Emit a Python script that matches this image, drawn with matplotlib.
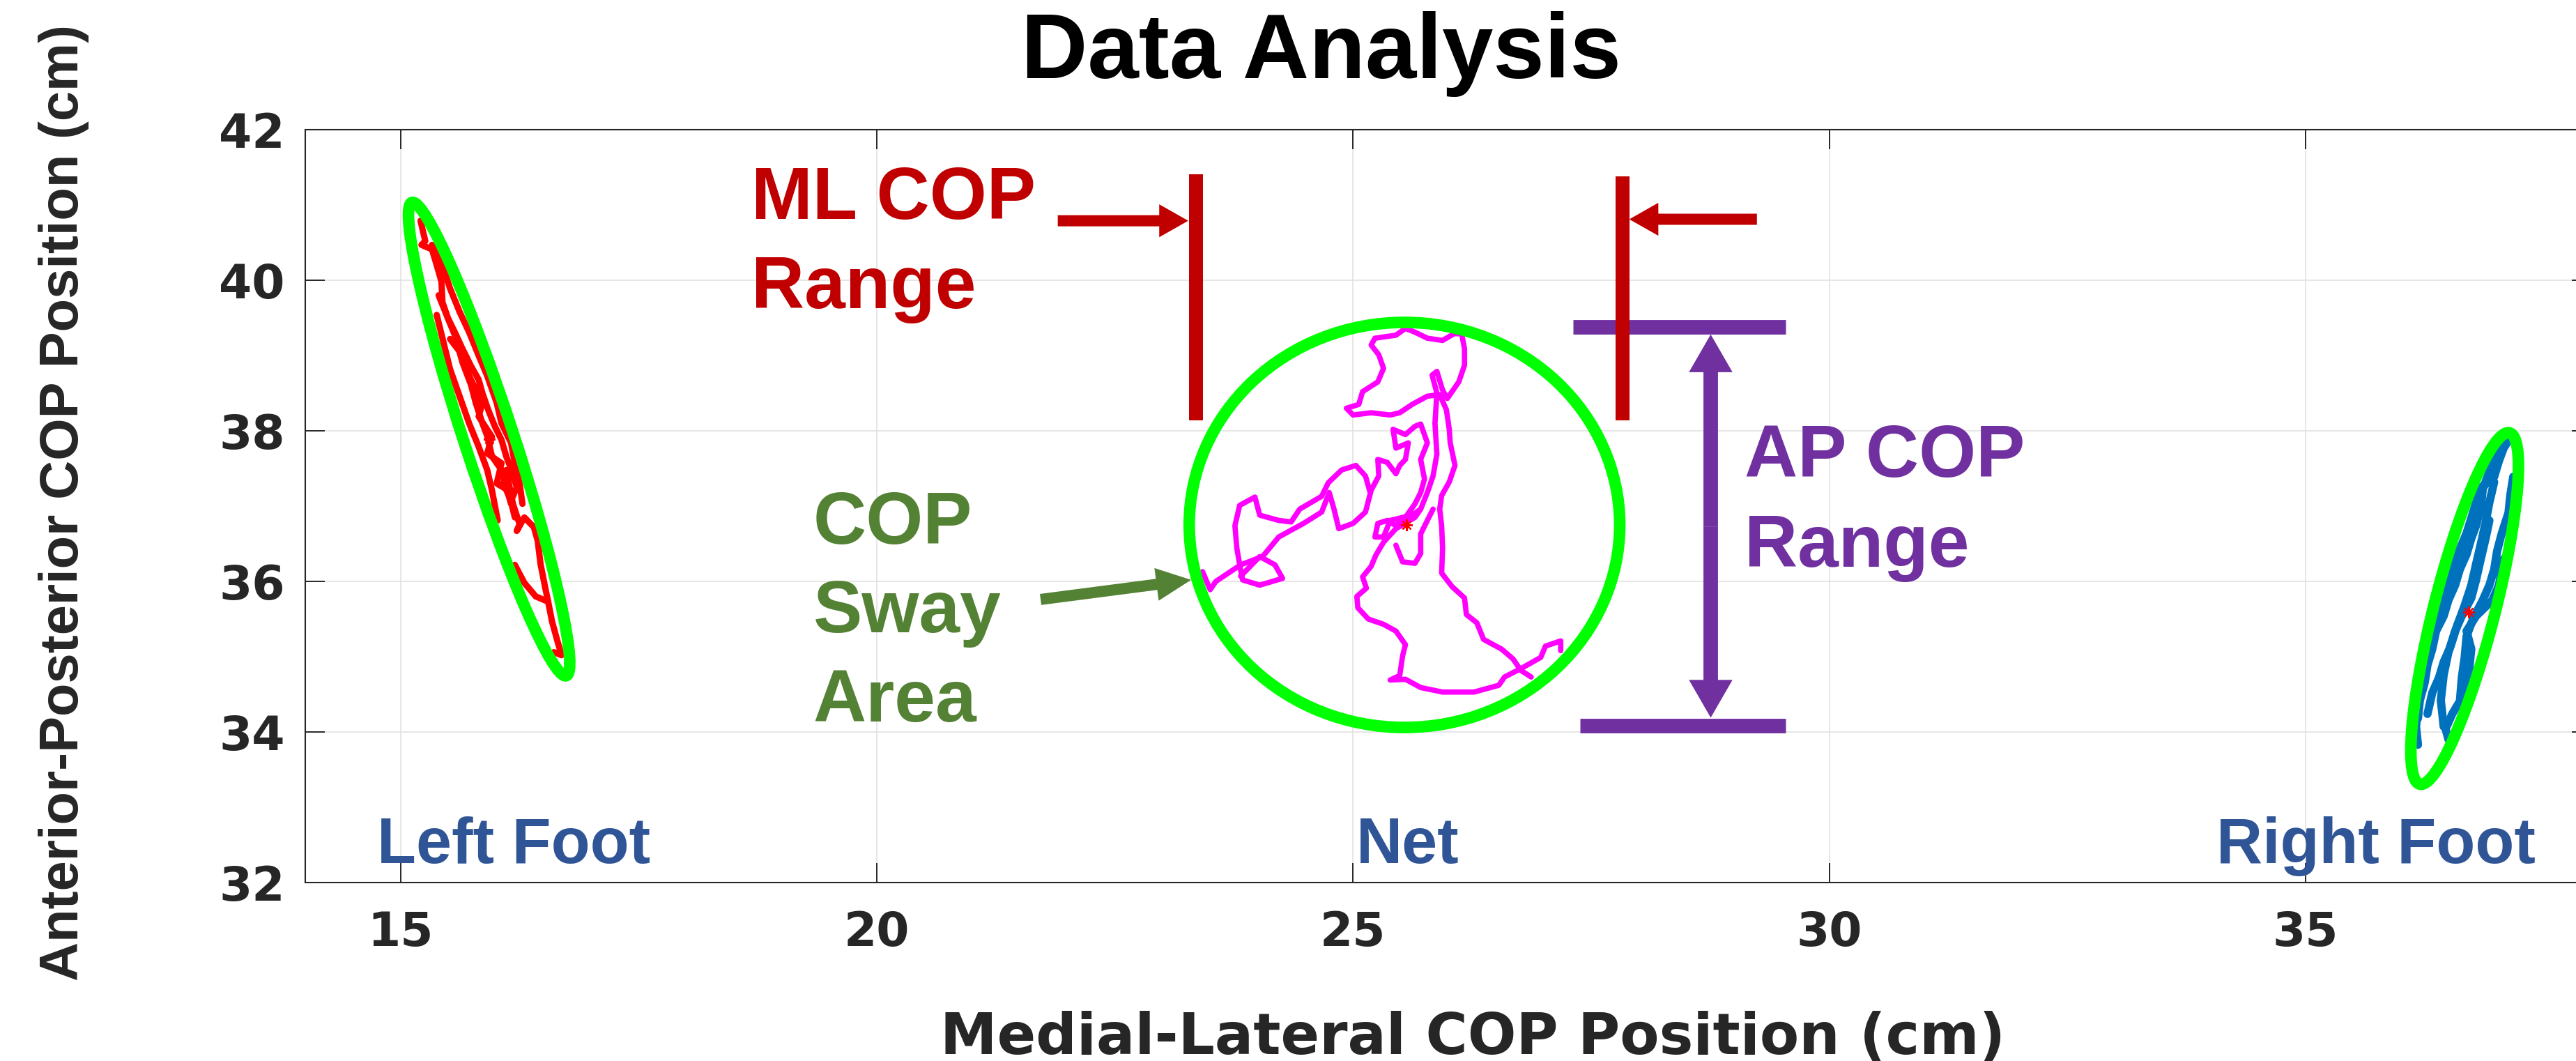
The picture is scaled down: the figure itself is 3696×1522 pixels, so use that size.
import numpy as np
import matplotlib
matplotlib.use('Agg')
import matplotlib.pyplot as plt
from matplotlib.patches import Ellipse, FancyArrowPatch
from matplotlib import font_manager

# ---- COP traces (cm) ----
net_main_x = [23.42, 23.50, 23.56, 23.82, 24.05, 24.22, 24.48, 24.67, 24.75, 24.80,
              24.85, 25.00, 25.13, 25.19, 25.27, 25.26, 25.36, 25.45, 25.49, 25.55,
              25.58, 25.45, 25.42, 25.55, 25.65, 25.71, 25.78, 25.71, 25.75, 25.71,
              25.65, 25.55, 25.45, 25.36, 25.26, 25.23, 25.32, 25.39, 25.62, 25.71,
              25.78, 25.84, 25.88, 25.86, 25.88, 25.83, 25.88, 25.94, 25.99, 26.11,
              26.17, 26.17, 26.14, 26.06, 25.94, 25.78, 25.65, 25.55, 25.45, 25.23,
              25.19, 25.27, 25.32, 25.26, 25.10, 25.06, 24.93, 25.00, 25.19, 25.39,
              25.49, 25.62, 25.78, 25.91, 25.98, 26.01, 26.02, 26.07, 26.01, 25.93,
              25.91, 25.93, 25.94, 25.93, 26.04, 26.17, 26.19, 26.30, 26.37, 26.56,
              26.68, 26.76, 26.87]
net_main_y = [36.13, 35.89, 36.00, 36.22, 36.33, 36.59, 36.77, 36.92, 37.18, 36.96,
              36.70, 36.77, 36.92, 37.21, 37.40, 37.62, 37.58, 37.43, 37.54, 37.62,
              37.84, 37.77, 38.02, 37.95, 38.06, 38.09, 37.84, 37.62, 37.36, 37.18,
              37.03, 36.85, 36.74, 36.81, 36.77, 36.59, 36.59, 36.81, 36.88, 36.96,
              37.18, 37.40, 37.69, 38.10, 38.50, 38.74, 38.79, 38.54, 38.43, 38.65,
              38.87, 39.09, 39.29, 39.29, 39.20, 39.23, 39.31, 39.36, 39.27, 39.23,
              39.14, 39.01, 38.83, 38.65, 38.52, 38.35, 38.30, 38.21, 38.24, 38.21,
              38.24, 38.35, 38.46, 38.48, 38.28, 38.02, 37.84, 37.54, 37.32, 37.14,
              36.96, 36.74, 36.44, 36.11, 35.93, 35.78, 35.56, 35.45, 35.23, 35.10,
              34.97, 34.82, 34.73]
net_left_x = [23.82, 24.02, 24.18, 24.26, 24.02, 23.84, 23.82, 23.78, 23.76, 23.81, 23.97,
              24.02, 24.22, 24.35, 24.44, 24.67, 24.74, 24.88, 25.03, 25.13, 25.18]
net_left_y = [36.07, 36.33, 36.22, 36.04, 35.95, 36.02, 36.15, 36.44, 36.74, 37.01, 37.12,
              36.88, 36.81, 36.79, 36.96, 37.13, 37.31, 37.48, 37.54, 37.40, 37.18]
net_low_x = [25.71, 25.65, 25.45, 25.32, 25.24, 25.19, 25.10, 25.14, 25.04, 25.05,
             25.16, 25.32, 25.45, 25.55, 25.52, 25.49, 25.39, 25.55, 25.71, 25.94,
             26.27, 26.53, 26.59, 26.76, 26.97, 27.02, 27.18, 27.18]
net_low_y = [36.96, 36.85, 36.70, 36.52, 36.35, 36.20, 36.06, 35.91, 35.80, 35.65,
             35.50, 35.43, 35.34, 35.16, 35.01, 34.75, 34.69, 34.70, 34.59, 34.53,
             34.53, 34.62, 34.73, 34.84, 34.99, 35.14, 35.21, 35.08]
net_loop_x = [25.45, 25.52, 25.65, 25.71, 25.71, 25.78, 25.84]
net_loop_y = [36.48, 36.26, 36.24, 36.37, 36.63, 36.81, 36.96]

left_a_x = [15.21, 15.26, 15.22, 15.33, 15.38, 15.43, 15.44, 15.50, 15.57, 15.65, 15.74, 15.82,
            15.86, 15.92, 15.99, 16.06, 16.11, 16.18, 16.22, 16.16, 16.08, 16.11, 16.18, 16.25,
            16.22, 16.30, 16.40, 16.44, 16.47, 16.52, 16.55, 16.59, 16.64, 16.69, 16.61]
left_a_y = [40.79, 40.52, 40.47, 40.41, 40.20, 39.98, 39.71, 39.49, 39.31, 39.09, 38.86, 38.68,
            38.50, 38.28, 38.06, 37.88, 37.66, 37.43, 37.25, 37.07, 37.30, 37.48, 37.03, 36.76,
            36.67, 36.85, 36.72, 36.54, 36.23, 35.91, 35.73, 35.47, 35.24, 35.02, 35.06]
left_b_x = [15.38, 15.45, 15.52, 15.62, 15.72, 15.82, 15.91, 15.96, 16.02]
left_b_y = [39.54, 39.18, 38.82, 38.46, 38.10, 37.79, 37.48, 37.21, 36.81]
left_c_x = [15.52, 15.67, 15.72, 15.86, 15.82, 15.96, 15.91, 16.06, 16.01, 16.13, 16.20]
left_c_y = [39.22, 38.97, 38.73, 38.37, 38.19, 37.92, 37.70, 37.57, 37.30, 37.21, 36.85]
left_d_x = [16.20, 16.30, 16.42, 16.55]
left_d_y = [36.22, 35.98, 35.80, 35.73]
left_e_x = [15.33, 15.45, 15.52, 15.62, 15.72, 15.82, 15.91, 16.01, 16.06, 16.16, 16.20, 16.25, 16.28]
left_e_y = [40.47, 40.16, 39.89, 39.58, 39.31, 39.00, 38.73, 38.37, 38.10, 37.84, 37.57, 37.30, 37.03]
left_f_x = [15.40, 15.47, 15.57, 15.65, 15.74, 15.79, 15.86, 15.91, 15.96, 16.06, 16.16]
left_f_y = [39.80, 39.58, 39.27, 38.91, 38.61, 38.37, 38.10, 37.93, 37.66, 37.48, 37.03]

right_a_x = [37.14, 37.08, 37.03, 36.98, 36.89, 36.81, 36.79, 36.74, 36.69, 36.62, 36.57,
             36.52, 36.45, 36.40, 36.33, 36.28, 36.23, 36.20, 36.18, 36.16, 36.18]
right_a_y = [37.89, 37.77, 37.60, 37.39, 37.29, 37.22, 37.05, 36.84, 36.64, 36.43, 36.23,
             36.02, 35.82, 35.61, 35.37, 35.13, 34.86, 34.59, 34.31, 34.07, 33.83]
right_b_x = [37.18, 37.15, 37.13, 37.06, 37.01, 36.98, 36.93, 36.86, 36.76, 36.69, 36.67,
             36.64, 36.62, 36.54, 36.47, 36.50]
right_b_y = [37.39, 37.15, 36.91, 36.64, 36.40, 36.16, 35.95, 35.75, 35.51, 35.27, 34.99,
             34.72, 34.41, 34.24, 34.04, 33.90]
right_c_x = [36.98, 36.93, 36.89, 36.84, 36.79, 36.74, 36.67, 36.59, 36.52, 36.45, 36.40, 36.33, 36.28]
right_c_y = [37.32, 37.05, 36.78, 36.50, 36.23, 35.95, 35.68, 35.41, 35.13, 34.93, 34.72, 34.52, 34.24]
right_d_x = [37.08, 37.03, 36.96, 36.79, 36.69, 36.74, 36.72, 36.67, 36.64]
right_d_y = [36.30, 35.95, 35.75, 35.54, 35.34, 35.10, 34.86, 34.59, 34.35]
right_e_x = [37.06, 36.98, 36.93, 36.86, 36.84, 36.79, 36.74, 36.69, 36.62, 36.57, 36.50,
             36.45, 36.37, 36.33, 36.28, 36.25, 36.20, 36.18]
right_e_y = [37.84, 37.67, 37.46, 37.22, 36.98, 36.74, 36.57, 36.36, 36.16, 35.95, 35.75,
             35.54, 35.34, 35.10, 34.89, 34.65, 34.42, 34.18]
right_f_x = [36.93, 36.89, 36.84, 36.79, 36.74, 36.64, 36.57, 36.50, 36.45, 36.42, 36.45]
right_f_y = [36.81, 36.57, 36.30, 36.02, 35.78, 35.54, 35.34, 35.06, 34.76, 34.42, 34.07]

# mean COP (red asterisks)
mean_x = [15.93, 25.56, 36.71]
mean_y = [37.89, 36.75, 35.59]

# sway ellipses: centre, full width, full height, angle (deg), all in data units
ell_cx = [15.93, 25.54, 36.67]
ell_cy = [37.89, 36.75, 35.64]
ell_w = [6.49, 4.52, 4.76]
ell_h = [0.53, 5.38, 0.65]
ell_ang = [-75.6, 0.0, 78.7]

# range markers
ml_range = [23.35, 27.83]
ml_top = [41.41, 41.38]
ml_bottom = 38.14
ap_range = [39.38, 34.08]
ap_left = [27.31, 27.38]
ap_right = 29.54

xticks = [15, 20, 25, 30, 35]
yticks = [32, 34, 36, 38, 40, 42]

RED = '#C00000'
PURPLE = '#7030A0'
GREEN_TXT = '#548235'
BLUE_TXT = '#2F5597'
DARK = '#262626'

names = {f.name for f in font_manager.fontManager.ttflist}
ylab_font = 'Liberation Sans Narrow' if 'Liberation Sans Narrow' in names else 'Liberation Sans'
ylab_size = 68 if ylab_font == 'Liberation Sans Narrow' else 56

plt.rcParams['font.family'] = ['Liberation Sans', 'DejaVu Sans']

fig = plt.figure(figsize=(36.96, 15.22), dpi=100)
ax = fig.add_axes([438 / 3696, 1 - 1266 / 1522, 3280 / 3696, 1080 / 1522])
ax.set_xlim(14, 38)
ax.set_ylim(32, 42)
ax.set_xticks(xticks)
ax.set_yticks(yticks)
ax.grid(True, color='#e2e2e2', lw=1.2)
ax.set_axisbelow(True)
for s in ax.spines.values():
    s.set_color(DARK)
    s.set_linewidth(1.5)
ax.tick_params(direction='in', length=20, width=1.4, color=DARK, top=True, right=True,
               labelcolor=DARK)
ax.tick_params(axis='x', pad=28)
ax.tick_params(axis='y', pad=21)
for lab in ax.get_xticklabels() + ax.get_yticklabels():
    lab.set_fontfamily('DejaVu Sans')
    lab.set_fontweight('bold')
    lab.set_fontsize(49)

# traces
left_strands = [(left_a_x, left_a_y), (left_b_x, left_b_y), (left_c_x, left_c_y),
                (left_d_x, left_d_y), (left_e_x, left_e_y), (left_f_x, left_f_y)]
right_strands = [(right_a_x, right_a_y), (right_b_x, right_b_y), (right_c_x, right_c_y),
                 (right_d_x, right_d_y), (right_e_x, right_e_y), (right_f_x, right_f_y)]
net_strands = [(net_main_x, net_main_y), (net_left_x, net_left_y),
               (net_low_x, net_low_y), (net_loop_x, net_loop_y)]
for xs, ys in left_strands:
    ax.plot(xs, ys, color='#FF0000', lw=6.5, solid_joinstyle='round', solid_capstyle='round', zorder=3)
for xs, ys in right_strands:
    ax.plot(xs, ys, color='#0072BD', lw=8.5, solid_joinstyle='round', solid_capstyle='round', zorder=3)
for xs, ys in net_strands:
    ax.plot(xs, ys, color='#FF00FF', lw=5.5, solid_joinstyle='round', solid_capstyle='round', zorder=3)
ax.plot(mean_x, mean_y, ls='none', marker=(8, 2, 0), ms=12, mew=1.6, color='#FF0000', zorder=4)

for cx, cy, w, h, a in zip(ell_cx, ell_cy, ell_w, ell_h, ell_ang):
    ax.add_patch(Ellipse((cx, cy), w, h, angle=a, fill=False, ec='#00FF00', lw=12, zorder=5))

# AP range bars and arrow
ax.plot([ap_left[0], ap_right], [ap_range[0]] * 2, color=PURPLE, lw=15, solid_capstyle='butt', zorder=6)
ax.plot([ap_left[1], ap_right], [ap_range[1]] * 2, color=PURPLE, lw=15, solid_capstyle='butt', zorder=6)


def arrow(tail, tip, color, tail_w, head_w, head_l):
    style = f'simple,head_length={head_l},head_width={head_w},tail_width={tail_w}'
    ax.add_patch(FancyArrowPatch(tail, tip, arrowstyle=style, mutation_scale=1, color=color,
                                 lw=0, shrinkA=0, shrinkB=0, zorder=6))


ap_mid = (ap_range[0] + ap_range[1]) / 2
arrow((28.755, ap_mid), (28.755, 39.28), PURPLE, 15, 45, 39)
arrow((28.755, ap_mid), (28.755, 34.19), PURPLE, 15, 45, 39)

# ML range bars and arrows
for x, top in zip(ml_range, ml_top):
    ax.plot([x, x], [ml_bottom, top], color=RED, lw=14.4, solid_capstyle='butt', zorder=7)
arrow((21.90, 40.79), (23.27, 40.79), RED, 11.5, 34, 30)
arrow((29.24, 40.81), (27.90, 40.81), RED, 11.5, 34, 30)

# sway-area arrow
arrow((21.72, 35.76), (23.30, 36.02), GREEN_TXT, 11.5, 34, 36)

# labels
txt = dict(fontweight='bold', fontsize=76, va='baseline', ha='left', zorder=8)
ax.text(18.68, 40.815, 'ML COP', color=RED, **txt)
ax.text(18.68, 39.63, 'Range', color=RED, **txt)
ax.text(29.11, 37.39, 'AP COP', color=PURPLE, **txt)
ax.text(29.11, 36.19, 'Range', color=PURPLE, **txt)
ax.text(19.33, 36.50, 'COP', color=GREEN_TXT, **txt)
ax.text(19.33, 35.32, 'Sway', color=GREEN_TXT, **txt)
ax.text(19.33, 34.14, 'Area', color=GREEN_TXT, **txt)

foot = dict(fontweight='bold', fontsize=66, va='baseline', ha='center', color=BLUE_TXT, zorder=8)
ax.text(16.19, 32.26, 'Left Foot', **foot)
ax.text(25.57, 32.26, 'Net', **foot)
ax.text(35.74, 32.26, 'Right Foot', **foot)

ax.set_xlabel('Medial-Lateral COP Position (cm)', fontfamily='DejaVu Sans', fontweight='bold',
              fontsize=59, color=DARK, va='top')
ax.xaxis.set_label_coords(0.5107, -0.170)
ax.set_ylabel('Anterior-Posterior COP Position (cm)', fontfamily=ylab_font, fontweight='bold',
              fontsize=ylab_size, color=DARK, va='center')
ax.yaxis.set_label_coords(-0.1055, 0.5046)

fig.text(1895 / 3696, 1 - 112 / 1522, 'Data Analysis', fontweight='bold', fontsize=95,
         ha='center', va='baseline', color='black')

fig.savefig('out.png', dpi=100)
